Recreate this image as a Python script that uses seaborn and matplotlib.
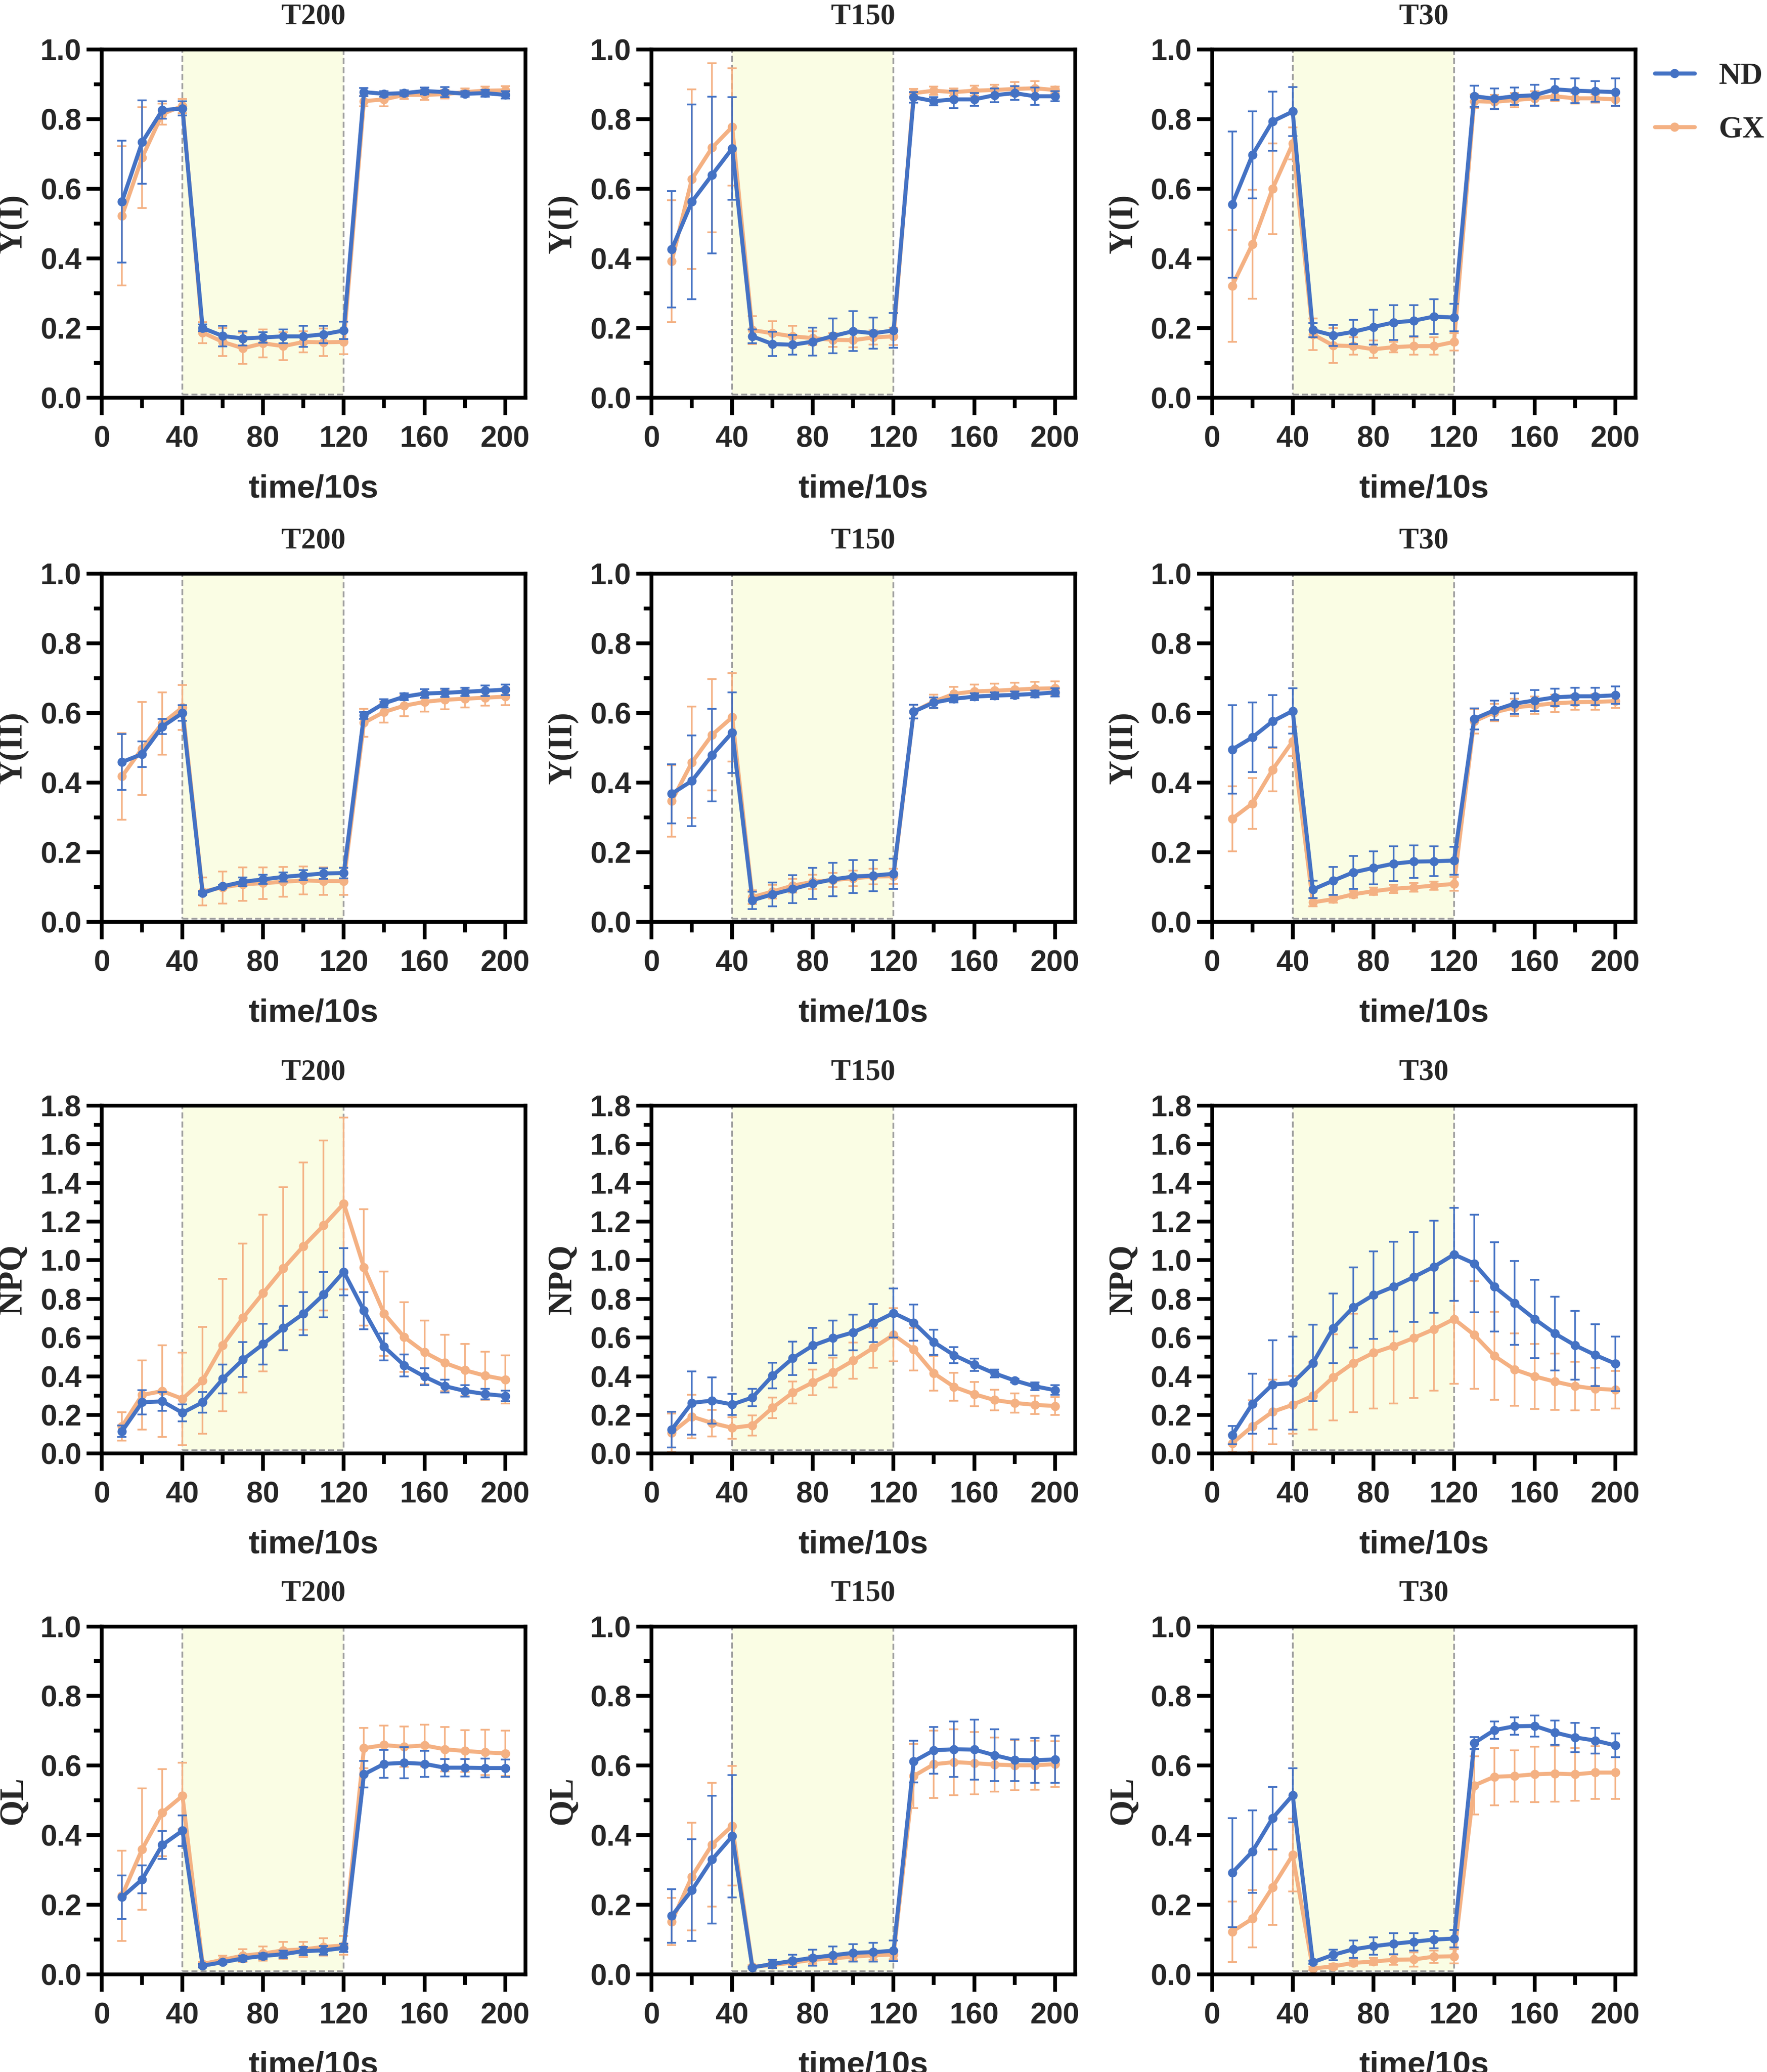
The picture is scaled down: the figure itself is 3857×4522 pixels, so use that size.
import numpy as np
import pandas as pd
import matplotlib
matplotlib.use("Agg")
import matplotlib.pyplot as plt
from matplotlib.ticker import MultipleLocator, FormatStrFormatter
import seaborn as sns

# ---------------- data ----------------
time_points = [10, 20, 30, 40, 50, 60, 70, 80, 90, 100,
               110, 120, 130, 140, 150, 160, 170, 180, 190, 200]
groups = ["ND", "GX"]
treatments = ["T200", "T150", "T30"]
params = ["Y(I)", "Y(II)", "NPQ", "QL"]

# Y(I)
yi_t200_nd = [0.563, 0.734, 0.826, 0.831, 0.200, 0.177, 0.170, 0.173, 0.176, 0.176, 0.182, 0.193, 0.878, 0.873, 0.875, 0.881, 0.878, 0.873, 0.875, 0.870]
yi_t200_nd_sd = [0.175, 0.120, 0.025, 0.020, 0.010, 0.030, 0.020, 0.015, 0.020, 0.030, 0.025, 0.025, 0.012, 0.008, 0.008, 0.010, 0.015, 0.008, 0.010, 0.010]
yi_t200_gx = [0.522, 0.690, 0.815, 0.838, 0.187, 0.160, 0.142, 0.156, 0.148, 0.160, 0.159, 0.160, 0.852, 0.857, 0.870, 0.870, 0.872, 0.878, 0.882, 0.883]
yi_t200_gx_sd = [0.200, 0.145, 0.030, 0.020, 0.030, 0.040, 0.045, 0.040, 0.040, 0.030, 0.040, 0.035, 0.015, 0.020, 0.012, 0.015, 0.012, 0.010, 0.012, 0.012]
yi_t150_nd = [0.426, 0.563, 0.640, 0.716, 0.176, 0.154, 0.152, 0.161, 0.177, 0.191, 0.185, 0.193, 0.863, 0.852, 0.857, 0.857, 0.869, 0.875, 0.866, 0.866]
yi_t150_nd_sd = [0.167, 0.280, 0.225, 0.148, 0.020, 0.035, 0.028, 0.040, 0.050, 0.057, 0.045, 0.050, 0.015, 0.012, 0.025, 0.018, 0.020, 0.020, 0.025, 0.015]
yi_t150_gx = [0.392, 0.628, 0.718, 0.778, 0.194, 0.185, 0.176, 0.171, 0.166, 0.165, 0.173, 0.176, 0.875, 0.882, 0.878, 0.882, 0.884, 0.887, 0.889, 0.884]
yi_t150_gx_sd = [0.175, 0.258, 0.243, 0.168, 0.040, 0.035, 0.030, 0.020, 0.020, 0.020, 0.020, 0.025, 0.012, 0.012, 0.010, 0.015, 0.015, 0.020, 0.020, 0.010]
yi_t30_nd = [0.555, 0.697, 0.794, 0.822, 0.194, 0.179, 0.189, 0.203, 0.216, 0.221, 0.233, 0.230, 0.866, 0.859, 0.866, 0.869, 0.886, 0.882, 0.880, 0.878]
yi_t30_nd_sd = [0.210, 0.125, 0.085, 0.070, 0.020, 0.030, 0.035, 0.050, 0.050, 0.045, 0.050, 0.040, 0.030, 0.030, 0.025, 0.030, 0.030, 0.035, 0.030, 0.040]
yi_t30_gx = [0.321, 0.441, 0.600, 0.730, 0.182, 0.150, 0.148, 0.139, 0.145, 0.148, 0.148, 0.160, 0.852, 0.850, 0.855, 0.860, 0.866, 0.860, 0.860, 0.857]
yi_t30_gx_sd = [0.160, 0.157, 0.130, 0.046, 0.045, 0.050, 0.025, 0.025, 0.015, 0.025, 0.025, 0.025, 0.020, 0.020, 0.020, 0.020, 0.015, 0.015, 0.012, 0.020]

# Y(II)
yii_t200_nd = [0.459, 0.482, 0.561, 0.600, 0.083, 0.102, 0.115, 0.122, 0.129, 0.134, 0.139, 0.140, 0.593, 0.628, 0.647, 0.656, 0.658, 0.661, 0.664, 0.667]
yii_t200_nd_sd = [0.080, 0.037, 0.022, 0.022, 0.005, 0.005, 0.012, 0.013, 0.013, 0.015, 0.015, 0.015, 0.010, 0.012, 0.010, 0.012, 0.012, 0.012, 0.015, 0.015]
yii_t200_gx = [0.418, 0.498, 0.570, 0.616, 0.087, 0.099, 0.108, 0.111, 0.115, 0.119, 0.117, 0.117, 0.572, 0.603, 0.621, 0.632, 0.638, 0.641, 0.644, 0.647]
yii_t200_gx_sd = [0.124, 0.134, 0.090, 0.064, 0.040, 0.046, 0.048, 0.045, 0.043, 0.040, 0.040, 0.040, 0.040, 0.030, 0.030, 0.028, 0.027, 0.025, 0.023, 0.025]
yii_t150_nd = [0.368, 0.405, 0.479, 0.544, 0.062, 0.079, 0.094, 0.110, 0.122, 0.130, 0.133, 0.138, 0.604, 0.630, 0.641, 0.647, 0.650, 0.652, 0.655, 0.659]
yii_t150_nd_sd = [0.085, 0.130, 0.133, 0.116, 0.025, 0.034, 0.040, 0.045, 0.048, 0.047, 0.045, 0.043, 0.020, 0.015, 0.010, 0.010, 0.010, 0.010, 0.010, 0.012]
yii_t150_gx = [0.347, 0.458, 0.537, 0.588, 0.071, 0.087, 0.104, 0.115, 0.120, 0.125, 0.130, 0.131, 0.604, 0.633, 0.655, 0.662, 0.664, 0.667, 0.670, 0.671]
yii_t150_gx_sd = [0.103, 0.160, 0.160, 0.127, 0.020, 0.020, 0.020, 0.020, 0.020, 0.022, 0.022, 0.022, 0.020, 0.020, 0.020, 0.020, 0.020, 0.020, 0.020, 0.020]
yii_t30_nd = [0.495, 0.530, 0.576, 0.606, 0.093, 0.118, 0.142, 0.155, 0.167, 0.173, 0.174, 0.176, 0.583, 0.608, 0.627, 0.636, 0.645, 0.648, 0.648, 0.651]
yii_t30_nd_sd = [0.127, 0.100, 0.075, 0.065, 0.025, 0.040, 0.047, 0.047, 0.050, 0.047, 0.043, 0.040, 0.030, 0.028, 0.030, 0.030, 0.025, 0.025, 0.025, 0.025]
yii_t30_gx = [0.296, 0.340, 0.437, 0.519, 0.056, 0.065, 0.079, 0.088, 0.095, 0.099, 0.104, 0.109, 0.576, 0.602, 0.616, 0.622, 0.628, 0.631, 0.632, 0.634]
yii_t30_gx_sd = [0.093, 0.073, 0.062, 0.042, 0.012, 0.010, 0.010, 0.010, 0.012, 0.012, 0.012, 0.020, 0.035, 0.025, 0.025, 0.025, 0.025, 0.022, 0.022, 0.020]

# NPQ
npq_t200_nd = [0.115, 0.265, 0.270, 0.211, 0.265, 0.386, 0.486, 0.566, 0.649, 0.724, 0.822, 0.940, 0.739, 0.552, 0.456, 0.398, 0.349, 0.324, 0.308, 0.298]
npq_t200_nd_sd = [0.030, 0.062, 0.048, 0.044, 0.053, 0.074, 0.090, 0.105, 0.114, 0.112, 0.118, 0.122, 0.095, 0.069, 0.056, 0.044, 0.034, 0.030, 0.028, 0.028]
npq_t200_gx = [0.140, 0.303, 0.323, 0.283, 0.378, 0.561, 0.702, 0.830, 0.957, 1.073, 1.180, 1.293, 0.963, 0.724, 0.602, 0.524, 0.469, 0.431, 0.403, 0.383]
npq_t200_gx_sd = [0.073, 0.180, 0.237, 0.240, 0.276, 0.343, 0.385, 0.406, 0.420, 0.432, 0.440, 0.445, 0.300, 0.218, 0.180, 0.165, 0.145, 0.135, 0.125, 0.125]
npq_t150_nd = [0.124, 0.262, 0.274, 0.254, 0.290, 0.403, 0.493, 0.559, 0.597, 0.627, 0.675, 0.727, 0.677, 0.576, 0.509, 0.460, 0.415, 0.378, 0.348, 0.328]
npq_t150_nd_sd = [0.093, 0.163, 0.120, 0.054, 0.046, 0.066, 0.086, 0.092, 0.090, 0.092, 0.098, 0.127, 0.094, 0.065, 0.042, 0.032, 0.020, 0.010, 0.020, 0.025]
npq_t150_gx = [0.108, 0.191, 0.158, 0.133, 0.146, 0.237, 0.315, 0.368, 0.420, 0.481, 0.547, 0.614, 0.539, 0.415, 0.345, 0.307, 0.277, 0.262, 0.252, 0.246]
npq_t150_gx_sd = [0.100, 0.113, 0.069, 0.056, 0.052, 0.054, 0.057, 0.067, 0.077, 0.093, 0.103, 0.137, 0.110, 0.089, 0.072, 0.063, 0.054, 0.050, 0.048, 0.047]
npq_t30_nd = [0.095, 0.257, 0.357, 0.365, 0.468, 0.648, 0.756, 0.820, 0.863, 0.913, 0.966, 1.030, 0.983, 0.863, 0.779, 0.696, 0.621, 0.560, 0.510, 0.465]
npq_t30_nd_sd = [0.048, 0.155, 0.228, 0.240, 0.198, 0.180, 0.207, 0.227, 0.233, 0.233, 0.238, 0.240, 0.252, 0.231, 0.217, 0.202, 0.191, 0.177, 0.160, 0.141]
npq_t30_gx = [0.053, 0.141, 0.216, 0.252, 0.299, 0.394, 0.468, 0.521, 0.556, 0.598, 0.643, 0.696, 0.614, 0.505, 0.435, 0.399, 0.372, 0.349, 0.335, 0.330]
npq_t30_gx_sd = [0.045, 0.134, 0.167, 0.150, 0.175, 0.222, 0.255, 0.289, 0.296, 0.310, 0.317, 0.335, 0.279, 0.227, 0.187, 0.168, 0.146, 0.125, 0.110, 0.098]

# QL
ql_t200_nd = [0.222, 0.273, 0.372, 0.413, 0.025, 0.035, 0.046, 0.053, 0.058, 0.067, 0.069, 0.076, 0.575, 0.605, 0.608, 0.605, 0.594, 0.594, 0.593, 0.593]
ql_t200_nd_sd = [0.063, 0.040, 0.040, 0.044, 0.005, 0.005, 0.008, 0.008, 0.010, 0.012, 0.012, 0.012, 0.038, 0.040, 0.045, 0.038, 0.025, 0.025, 0.027, 0.025]
ql_t200_gx = [0.226, 0.360, 0.465, 0.513, 0.030, 0.042, 0.054, 0.060, 0.069, 0.072, 0.079, 0.083, 0.650, 0.659, 0.654, 0.658, 0.647, 0.642, 0.638, 0.635]
ql_t200_gx_sd = [0.130, 0.174, 0.125, 0.095, 0.005, 0.012, 0.018, 0.020, 0.025, 0.022, 0.025, 0.027, 0.058, 0.056, 0.058, 0.060, 0.064, 0.060, 0.065, 0.065]
ql_t150_nd = [0.168, 0.242, 0.330, 0.397, 0.020, 0.030, 0.039, 0.048, 0.055, 0.062, 0.064, 0.068, 0.612, 0.644, 0.647, 0.646, 0.630, 0.616, 0.615, 0.618]
ql_t150_nd_sd = [0.077, 0.146, 0.184, 0.176, 0.003, 0.012, 0.018, 0.023, 0.025, 0.025, 0.027, 0.030, 0.060, 0.067, 0.080, 0.086, 0.074, 0.060, 0.065, 0.068]
ql_t150_gx = [0.152, 0.281, 0.373, 0.427, 0.022, 0.027, 0.034, 0.042, 0.046, 0.051, 0.055, 0.057, 0.570, 0.604, 0.610, 0.607, 0.603, 0.601, 0.601, 0.604]
ql_t150_gx_sd = [0.068, 0.155, 0.178, 0.172, 0.004, 0.008, 0.010, 0.012, 0.012, 0.012, 0.013, 0.013, 0.092, 0.097, 0.095, 0.090, 0.078, 0.072, 0.070, 0.066]
ql_t30_nd = [0.292, 0.353, 0.449, 0.515, 0.035, 0.056, 0.072, 0.081, 0.088, 0.094, 0.100, 0.103, 0.665, 0.702, 0.713, 0.714, 0.695, 0.681, 0.672, 0.658]
ql_t30_nd_sd = [0.157, 0.118, 0.090, 0.078, 0.005, 0.015, 0.025, 0.025, 0.030, 0.025, 0.025, 0.025, 0.017, 0.025, 0.025, 0.030, 0.035, 0.042, 0.037, 0.034]
ql_t30_gx = [0.123, 0.160, 0.250, 0.343, 0.017, 0.023, 0.033, 0.037, 0.042, 0.043, 0.051, 0.052, 0.543, 0.568, 0.570, 0.575, 0.577, 0.575, 0.580, 0.580]
ql_t30_gx_sd = [0.087, 0.082, 0.108, 0.105, 0.005, 0.007, 0.008, 0.010, 0.015, 0.020, 0.018, 0.020, 0.084, 0.082, 0.074, 0.080, 0.080, 0.076, 0.076, 0.076]

# shaded high-light window and axis tops
light_window = [40, 120]
y_top = {"Y(I)": 1.0, "Y(II)": 1.0, "NPQ": 1.8, "QL": 1.0}

series = {
    ("Y(I)", "T200"): {"ND": (yi_t200_nd, yi_t200_nd_sd), "GX": (yi_t200_gx, yi_t200_gx_sd)},
    ("Y(I)", "T150"): {"ND": (yi_t150_nd, yi_t150_nd_sd), "GX": (yi_t150_gx, yi_t150_gx_sd)},
    ("Y(I)", "T30"): {"ND": (yi_t30_nd, yi_t30_nd_sd), "GX": (yi_t30_gx, yi_t30_gx_sd)},
    ("Y(II)", "T200"): {"ND": (yii_t200_nd, yii_t200_nd_sd), "GX": (yii_t200_gx, yii_t200_gx_sd)},
    ("Y(II)", "T150"): {"ND": (yii_t150_nd, yii_t150_nd_sd), "GX": (yii_t150_gx, yii_t150_gx_sd)},
    ("Y(II)", "T30"): {"ND": (yii_t30_nd, yii_t30_nd_sd), "GX": (yii_t30_gx, yii_t30_gx_sd)},
    ("NPQ", "T200"): {"ND": (npq_t200_nd, npq_t200_nd_sd), "GX": (npq_t200_gx, npq_t200_gx_sd)},
    ("NPQ", "T150"): {"ND": (npq_t150_nd, npq_t150_nd_sd), "GX": (npq_t150_gx, npq_t150_gx_sd)},
    ("NPQ", "T30"): {"ND": (npq_t30_nd, npq_t30_nd_sd), "GX": (npq_t30_gx, npq_t30_gx_sd)},
    ("QL", "T200"): {"ND": (ql_t200_nd, ql_t200_nd_sd), "GX": (ql_t200_gx, ql_t200_gx_sd)},
    ("QL", "T150"): {"ND": (ql_t150_nd, ql_t150_nd_sd), "GX": (ql_t150_gx, ql_t150_gx_sd)},
    ("QL", "T30"): {"ND": (ql_t30_nd, ql_t30_nd_sd), "GX": (ql_t30_gx, ql_t30_gx_sd)},
}

# ---------------- style ----------------
sns.set_style("ticks")
plt.rcParams["font.family"] = ["Liberation Sans", "DejaVu Sans"]
plt.rcParams["font.weight"] = "bold"
plt.rcParams["axes.labelweight"] = "bold"
SERIF = ["Liberation Serif", "DejaVu Serif"]

colors = {"ND": "#4472C4", "GX": "#F4B183"}
shade_color = "#FAFDE4"
dash_color = "#9E9E9E"

W, H = 3857, 4522
fig = plt.figure(figsize=(W / 300, H / 300), dpi=300)

col_left = [222.2, 1422.2, 2645.6]
row_bottom = [867.8, 2011.8, 3172.3, 4309.0]
ax_w = 924.4
ax_h = 759.5

legend_handles = {}
for r, p in enumerate(params):
    for c, t in enumerate(treatments):
        ax = fig.add_axes([col_left[c] / W, 1 - row_bottom[r] / H, ax_w / W, ax_h / H])
        ax.axvspan(light_window[0], light_window[1], ymin=0.009, ymax=1.0,
                   facecolor=shade_color, edgecolor=dash_color, linewidth=0.9,
                   linestyle=(0, (3.5, 1.8)), zorder=0.5)
        rows = []
        for g in groups:
            m, s = series[(p, t)][g]
            for tp, mv, sv in zip(time_points, m, s):
                rows.append({"time": tp, "value": mv, "sd": sv, "group": g})
        df = pd.DataFrame(rows)
        for zi, g in enumerate(["GX", "ND"]):
            sub = df[df["group"] == g]
            ax.errorbar(sub["time"], sub["value"], yerr=sub["sd"], fmt="none",
                        ecolor=colors[g], elinewidth=0.85, capsize=2.3, capthick=0.9,
                        zorder=2 + zi)
            sns.lineplot(data=sub, x="time", y="value", color=colors[g], marker="o",
                         markersize=4.8, markeredgewidth=0, linewidth=2.1,
                         errorbar=None, ax=ax, label=g, zorder=2.5 + zi)
            if r == 0 and c == 2:
                legend_handles[g] = ax.get_lines()[-1]
        leg = ax.get_legend()
        if leg is not None:
            leg.remove()

        ax.set_xlim(0, 210)
        ax.set_ylim(0, y_top[p])
        ax.xaxis.set_major_locator(MultipleLocator(40))
        ax.xaxis.set_minor_locator(MultipleLocator(20))
        ax.yaxis.set_major_locator(MultipleLocator(0.2))
        ax.yaxis.set_minor_locator(MultipleLocator(0.1))
        ax.yaxis.set_major_formatter(FormatStrFormatter("%.1f"))
        ax.tick_params(axis="x", which="major", length=9, width=2, pad=5.5,
                       labelsize=15.5, direction="out", color="black")
        ax.tick_params(axis="x", which="minor", length=5.5, width=2, direction="out", color="black")
        ax.tick_params(axis="y", which="major", length=8, width=2, pad=2.6,
                       labelsize=15.5, direction="out", color="black")
        ax.tick_params(axis="y", which="minor", length=4, width=2, direction="out", color="black")
        for lab in ax.get_xticklabels() + ax.get_yticklabels():
            lab.set_fontweight("bold")
        for sp in ax.spines.values():
            sp.set_visible(True)
            sp.set_linewidth(2)
            sp.set_color("black")
        ax.set_xlabel("time/10s", fontsize=17, fontweight="bold", labelpad=11)
        ax.set_ylabel(p, fontsize=17.5, fontweight="bold", family=SERIF, labelpad=6)
        ax.set_title(t, fontsize=15.5, fontweight="bold", family=SERIF, pad=13.5)
        ax.grid(False)

fig.legend([legend_handles["ND"], legend_handles["GX"]], ["ND", "GX"],
           loc="upper left", bbox_to_anchor=(3612 / W, 1 - 136 / H),
           frameon=False, prop={"family": SERIF, "weight": "bold", "size": 16},
           handlelength=1.3, handletextpad=0.8, borderpad=0, borderaxespad=0,
           labelspacing=0.85)

fig.savefig("out.png", dpi=300)
